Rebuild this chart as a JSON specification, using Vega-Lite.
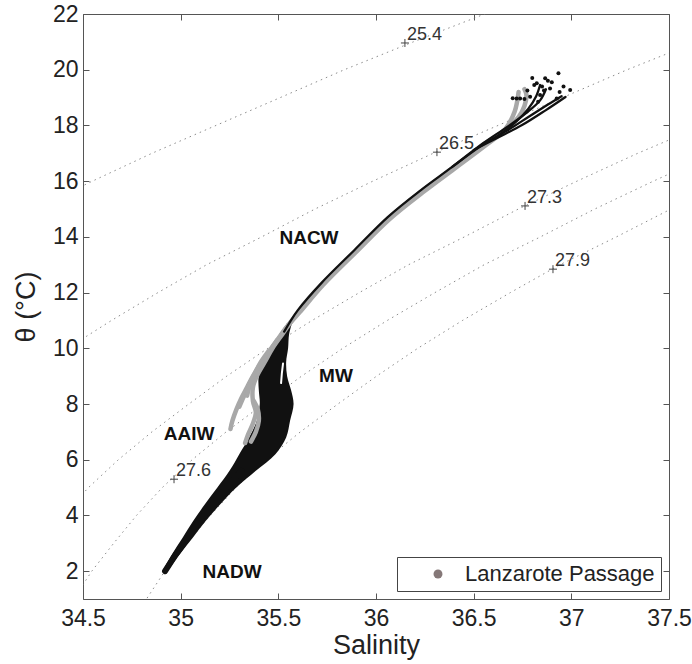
{
  "$schema": "https://vega.github.io/schema/vega-lite/v6.json",
  "width": 586,
  "height": 585,
  "autosize": "none",
  "padding": {"left": 83, "top": 14, "right": 23, "bottom": 65},
  "background": "white",
  "config": {
    "font": "Liberation Sans",
    "view": {"stroke": "#555", "strokeWidth": 1},
    "axis": {
      "domain": false, "grid": false, "ticks": true, "tickColor": "#555", "tickSize": -6,
      "labelFont": "Liberation Sans", "labelFontSize": 23, "labelColor": "#222",
      "titleFont": "Liberation Sans", "titleFontSize": 27, "titleFontWeight": "normal", "titleColor": "#222",
      "labelFlush": false, "labelOverlap": false, "labelBound": false
    },
    "legend": {
      "orient": "bottom-right", "offset": 8, "strokeColor": "#444", "fillColor": "white",
      "padding": 6, "symbolType": "circle", "symbolSize": 80, "labelFont": "Liberation Sans",
      "labelFontSize": 22, "labelColor": "#222", "symbolOffset": 24, "labelOffset": 16, "labelLimit": 400
    }
  },
  "datasets": {
    "iso": [
      {"sig": "25.4", "S": 34.255, "T": 15}, {"sig": "25.4", "S": 34.548, "T": 16}, {"sig": "25.4", "S": 34.853, "T": 17}, {"sig": "25.4", "S": 35.181, "T": 18}, {"sig": "25.4", "S": 35.510, "T": 19}, {"sig": "25.4", "S": 35.838, "T": 20}, {"sig": "25.4", "S": 36.191, "T": 21}, {"sig": "25.4", "S": 36.557, "T": 22}, {"sig": "25.4", "S": 36.742, "T": 22.5},
      {"sig": "26.5", "S": 34.421, "T": 10}, {"sig": "26.5", "S": 34.646, "T": 11}, {"sig": "26.5", "S": 34.884, "T": 12}, {"sig": "26.5", "S": 35.133, "T": 13}, {"sig": "26.5", "S": 35.415, "T": 14}, {"sig": "26.5", "S": 35.688, "T": 15}, {"sig": "26.5", "S": 35.984, "T": 16}, {"sig": "26.5", "S": 36.293, "T": 17}, {"sig": "26.5", "S": 36.625, "T": 18}, {"sig": "26.5", "S": 36.955, "T": 19}, {"sig": "26.5", "S": 37.286, "T": 20}, {"sig": "26.5", "S": 37.642, "T": 21},
      {"sig": "27.3", "S": 34.398, "T": 4}, {"sig": "27.3", "S": 34.528, "T": 5}, {"sig": "27.3", "S": 34.681, "T": 6}, {"sig": "27.3", "S": 34.853, "T": 7}, {"sig": "27.3", "S": 35.042, "T": 8}, {"sig": "27.3", "S": 35.236, "T": 9}, {"sig": "27.3", "S": 35.446, "T": 10}, {"sig": "27.3", "S": 35.673, "T": 11}, {"sig": "27.3", "S": 35.915, "T": 12}, {"sig": "27.3", "S": 36.167, "T": 13}, {"sig": "27.3", "S": 36.453, "T": 14}, {"sig": "27.3", "S": 36.729, "T": 15}, {"sig": "27.3", "S": 37.029, "T": 16}, {"sig": "27.3", "S": 37.340, "T": 17}, {"sig": "27.3", "S": 37.675, "T": 18},
      {"sig": "27.6", "S": 34.452, "T": 1}, {"sig": "27.6", "S": 34.545, "T": 2}, {"sig": "27.6", "S": 34.657, "T": 3}, {"sig": "27.6", "S": 34.774, "T": 4}, {"sig": "27.6", "S": 34.906, "T": 5}, {"sig": "27.6", "S": 35.059, "T": 6}, {"sig": "27.6", "S": 35.233, "T": 7}, {"sig": "27.6", "S": 35.424, "T": 8}, {"sig": "27.6", "S": 35.619, "T": 9}, {"sig": "27.6", "S": 35.830, "T": 10}, {"sig": "27.6", "S": 36.058, "T": 11}, {"sig": "27.6", "S": 36.302, "T": 12}, {"sig": "27.6", "S": 36.554, "T": 13}, {"sig": "27.6", "S": 36.842, "T": 14}, {"sig": "27.6", "S": 37.120, "T": 15}, {"sig": "27.6", "S": 37.420, "T": 16}, {"sig": "27.6", "S": 37.733, "T": 17},
      {"sig": "27.9", "S": 34.745, "T": 0}, {"sig": "27.9", "S": 34.825, "T": 1}, {"sig": "27.9", "S": 34.919, "T": 2}, {"sig": "27.9", "S": 35.033, "T": 3}, {"sig": "27.9", "S": 35.151, "T": 4}, {"sig": "27.9", "S": 35.283, "T": 5}, {"sig": "27.9", "S": 35.438, "T": 6}, {"sig": "27.9", "S": 35.613, "T": 7}, {"sig": "27.9", "S": 35.805, "T": 8}, {"sig": "27.9", "S": 36.003, "T": 9}, {"sig": "27.9", "S": 36.214, "T": 10}, {"sig": "27.9", "S": 36.443, "T": 11}, {"sig": "27.9", "S": 36.688, "T": 12}, {"sig": "27.9", "S": 36.942, "T": 13}, {"sig": "27.9", "S": 37.231, "T": 14}, {"sig": "27.9", "S": 37.510, "T": 15}, {"sig": "27.9", "S": 37.812, "T": 16}
    ],
    "isoLab": [
      {"sig": "25.4", "S": 36.148, "T": 20.96},
      {"sig": "26.5", "S": 36.312, "T": 17.04},
      {"sig": "27.3", "S": 36.763, "T": 15.11},
      {"sig": "27.9", "S": 36.906, "T": 12.84},
      {"sig": "27.6", "S": 34.966, "T": 5.30}
    ],
    "envelope": [
      {"T": 2.0, "lo": 34.907, "hi": 34.933}, {"T": 2.6, "lo": 34.955, "hi": 34.995}, {"T": 3.2, "lo": 35.01, "hi": 35.062},
      {"T": 3.8, "lo": 35.064, "hi": 35.128}, {"T": 4.4, "lo": 35.124, "hi": 35.203}, {"T": 5.0, "lo": 35.188, "hi": 35.285},
      {"T": 5.6, "lo": 35.25, "hi": 35.385}, {"T": 6.2, "lo": 35.30, "hi": 35.485}, {"T": 6.8, "lo": 35.35, "hi": 35.54},
      {"T": 7.4, "lo": 35.39, "hi": 35.56}, {"T": 8.0, "lo": 35.405, "hi": 35.578}, {"T": 8.5, "lo": 35.40, "hi": 35.565},
      {"T": 9.0, "lo": 35.40, "hi": 35.545}, {"T": 9.5, "lo": 35.43, "hi": 35.54}, {"T": 10.0, "lo": 35.465, "hi": 35.55},
      {"T": 10.5, "lo": 35.505, "hi": 35.555}, {"T": 10.9, "lo": 35.545, "hi": 35.57}
    ],
    "gap": [
      {"S": 35.514, "T": 8.75}, {"S": 35.518, "T": 9.1}, {"S": 35.524, "T": 9.45}
    ],
    "gray": [
      {"id": "g1", "S": 35.255, "T": 7.1}, {"id": "g1", "S": 35.265, "T": 7.4}, {"id": "g1", "S": 35.285, "T": 7.8}, {"id": "g1", "S": 35.31, "T": 8.2}, {"id": "g1", "S": 35.34, "T": 8.6}, {"id": "g1", "S": 35.37, "T": 9.0}, {"id": "g1", "S": 35.405, "T": 9.4}, {"id": "g1", "S": 35.445, "T": 9.8}, {"id": "g1", "S": 35.485, "T": 10.2}, {"id": "g1", "S": 35.525, "T": 10.6}, {"id": "g1", "S": 35.57, "T": 11.0}, {"id": "g1", "S": 35.612, "T": 11.37}, {"id": "g1", "S": 35.732, "T": 12.34}, {"id": "g1", "S": 35.902, "T": 13.53}, {"id": "g1", "S": 36.072, "T": 14.71}, {"id": "g1", "S": 36.242, "T": 15.68}, {"id": "g1", "S": 36.402, "T": 16.51}, {"id": "g1", "S": 36.562, "T": 17.37}, {"id": "g1", "S": 36.68, "T": 17.94}, {"id": "g1", "S": 36.73, "T": 18.3}, {"id": "g1", "S": 36.76, "T": 18.7}, {"id": "g1", "S": 36.77, "T": 19.1}, {"id": "g1", "S": 36.76, "T": 19.3},
      {"id": "g2", "S": 35.33, "T": 6.6}, {"id": "g2", "S": 35.345, "T": 6.9}, {"id": "g2", "S": 35.37, "T": 7.3}, {"id": "g2", "S": 35.385, "T": 7.7}, {"id": "g2", "S": 35.37, "T": 8.1}, {"id": "g2", "S": 35.37, "T": 8.6}, {"id": "g2", "S": 35.39, "T": 9.0}, {"id": "g2", "S": 35.43, "T": 9.5}, {"id": "g2", "S": 35.47, "T": 10.0}, {"id": "g2", "S": 35.52, "T": 10.5}, {"id": "g2", "S": 35.56, "T": 10.9}, {"id": "g2", "S": 35.61, "T": 11.3}, {"id": "g2", "S": 35.73, "T": 12.28}, {"id": "g2", "S": 35.90, "T": 13.47}, {"id": "g2", "S": 36.07, "T": 14.64}, {"id": "g2", "S": 36.24, "T": 15.6}, {"id": "g2", "S": 36.40, "T": 16.44}, {"id": "g2", "S": 36.56, "T": 17.28}, {"id": "g2", "S": 36.66, "T": 17.85}, {"id": "g2", "S": 36.71, "T": 18.5}, {"id": "g2", "S": 36.73, "T": 19.2},
      {"id": "g3", "S": 35.36, "T": 6.65}, {"id": "g3", "S": 35.385, "T": 7.0}, {"id": "g3", "S": 35.40, "T": 7.4}, {"id": "g3", "S": 35.395, "T": 7.8}, {"id": "g3", "S": 35.375, "T": 8.1},
      {"id": "g4", "S": 35.30, "T": 7.9}, {"id": "g4", "S": 35.325, "T": 8.3}, {"id": "g4", "S": 35.35, "T": 8.7}, {"id": "g4", "S": 35.385, "T": 9.1}, {"id": "g4", "S": 35.42, "T": 9.5}, {"id": "g4", "S": 35.455, "T": 9.9}, {"id": "g4", "S": 35.495, "T": 10.3},
      {"id": "g5", "S": 35.34, "T": 8.3}, {"id": "g5", "S": 35.355, "T": 8.7}, {"id": "g5", "S": 35.38, "T": 9.1}, {"id": "g5", "S": 35.41, "T": 9.5}, {"id": "g5", "S": 35.45, "T": 9.9}
    ],
    "black": [
      {"id": "m", "S": 35.53, "T": 10.6}, {"id": "m", "S": 35.56, "T": 10.95}, {"id": "m", "S": 35.60, "T": 11.37}, {"id": "m", "S": 35.72, "T": 12.34}, {"id": "m", "S": 35.89, "T": 13.53}, {"id": "m", "S": 36.06, "T": 14.71}, {"id": "m", "S": 36.23, "T": 15.68}, {"id": "m", "S": 36.39, "T": 16.51}, {"id": "m", "S": 36.55, "T": 17.37}, {"id": "m", "S": 36.67, "T": 17.94}, {"id": "m", "S": 36.77, "T": 18.45}, {"id": "m", "S": 36.84, "T": 18.9}, {"id": "m", "S": 36.87, "T": 19.3},
      {"id": "b2", "S": 36.39, "T": 16.51}, {"id": "b2", "S": 36.55, "T": 17.32}, {"id": "b2", "S": 36.68, "T": 17.85}, {"id": "b2", "S": 36.79, "T": 18.35}, {"id": "b2", "S": 36.88, "T": 18.75}, {"id": "b2", "S": 36.95, "T": 19.05},
      {"id": "b3", "S": 36.5, "T": 17.12}, {"id": "b3", "S": 36.62, "T": 17.55}, {"id": "b3", "S": 36.75, "T": 18.02}, {"id": "b3", "S": 36.87, "T": 18.55}, {"id": "b3", "S": 36.97, "T": 19.02},
      {"id": "b4", "S": 36.62, "T": 17.6}, {"id": "b4", "S": 36.72, "T": 18.15}, {"id": "b4", "S": 36.78, "T": 18.6}, {"id": "b4", "S": 36.82, "T": 19.05}, {"id": "b4", "S": 36.84, "T": 19.45},
      {"id": "c", "S": 34.92, "T": 2.0}, {"id": "c", "S": 34.975, "T": 2.6}, {"id": "c", "S": 35.036, "T": 3.2}, {"id": "c", "S": 35.096, "T": 3.8}, {"id": "c", "S": 35.163, "T": 4.4}, {"id": "c", "S": 35.236, "T": 5.0}, {"id": "c", "S": 35.31, "T": 5.6}
    ],
    "dots": [
      {"S": 36.934, "T": 19.87}, {"S": 36.994, "T": 19.27}, {"S": 36.866, "T": 19.69}, {"S": 36.823, "T": 19.51}, {"S": 36.891, "T": 19.33},
      {"S": 36.738, "T": 18.97}, {"S": 36.789, "T": 19.03}, {"S": 36.925, "T": 18.97}, {"S": 36.84, "T": 19.09}, {"S": 36.81, "T": 19.45},
      {"S": 36.9, "T": 19.55}, {"S": 36.76, "T": 18.95}, {"S": 36.86, "T": 19.25}, {"S": 36.94, "T": 19.2}, {"S": 36.8, "T": 19.7},
      {"S": 36.88, "T": 19.6}, {"S": 36.83, "T": 18.85}, {"S": 36.96, "T": 19.4}, {"S": 36.70, "T": 18.98}, {"S": 36.72, "T": 18.97},
      {"S": 36.775, "T": 19.25}, {"S": 36.85, "T": 19.4}
    ],
    "regions": [
      {"name": "NACW", "S": 35.657, "T": 13.96},
      {"name": "MW", "S": 35.795, "T": 9.0},
      {"name": "AAIW", "S": 35.043, "T": 6.92},
      {"name": "NADW", "S": 35.263, "T": 1.96}
    ]
  },
  "layer": [
    {
      "data": {"name": "iso"},
      "mark": {"type": "line", "clip": true, "color": "#777", "strokeWidth": 1, "strokeDash": [1.5, 4], "opacity": 0.85},
      "encoding": {
        "x": {"field": "S", "type": "quantitative", "scale": {"domain": [34.5, 37.5], "nice": false, "zero": false},
              "axis": {"orient": "bottom", "title": "Salinity", "values": [34.5, 35, 35.5, 36, 36.5, 37, 37.5], "format": "~g", "labelPadding": 14, "titlePadding": 2}},
        "y": {"field": "T", "type": "quantitative", "scale": {"domain": [1, 22], "nice": false, "zero": false},
              "axis": {"orient": "left", "title": "θ (°C)", "values": [2, 4, 6, 8, 10, 12, 14, 16, 18, 20, 22], "labelPadding": 11, "titlePadding": 12}},
        "detail": {"field": "sig"},
        "order": {"field": "T", "type": "quantitative"}
      }
    },
    {
      "data": {"name": "envelope"},
      "mark": {"type": "area", "orient": "horizontal", "color": "#111", "interpolate": "catmull-rom"},
      "encoding": {
        "y": {"field": "T", "type": "quantitative", "axis": {"orient": "right", "labels": false, "title": null, "values": [2, 4, 6, 8, 10, 12, 14, 16, 18, 20, 22]}},
        "x": {"field": "lo", "type": "quantitative", "axis": {"orient": "top", "labels": false, "title": null, "values": [34.5, 35, 35.5, 36, 36.5, 37, 37.5]}},
        "x2": {"field": "hi"}
      }
    },
    {
      "data": {"name": "gap"},
      "mark": {"type": "line", "color": "white", "strokeWidth": 2, "strokeCap": "round"},
      "encoding": {
        "x": {"field": "S", "type": "quantitative", "axis": null},
        "y": {"field": "T", "type": "quantitative", "axis": null},
        "order": {"field": "T", "type": "quantitative"}
      }
    },
    {
      "data": {"name": "black"},
      "transform": [{"filter": "datum.id === 'c'"}],
      "mark": {"type": "line", "color": "#111", "strokeWidth": 6, "strokeCap": "round"},
      "encoding": {
        "x": {"field": "S", "type": "quantitative", "axis": null},
        "y": {"field": "T", "type": "quantitative", "axis": null},
        "detail": {"field": "id"},
        "order": {"field": "T", "type": "quantitative"}
      }
    },
    {
      "data": {"name": "gray"},
      "mark": {"type": "line", "strokeWidth": 4.5, "strokeCap": "round", "strokeJoin": "round", "interpolate": "catmull-rom"},
      "encoding": {
        "x": {"field": "S", "type": "quantitative", "axis": null},
        "y": {"field": "T", "type": "quantitative", "axis": null},
        "detail": {"field": "id"},
        "order": {"field": "T", "type": "quantitative"},
        "color": {"datum": "Lanzarote Passage", "type": "nominal", "scale": {"range": ["#a8a8a8"]},
                  "legend": {"title": null, "symbolType": "circle",
                             "encode": {"symbols": {"update": {"fill": {"value": "#857878"}, "stroke": {"value": "#857878"}, "strokeWidth": {"value": 0}, "opacity": {"value": 1}}}}}}
      }
    },
    {
      "data": {"name": "black"},
      "transform": [{"filter": "datum.id !== 'c'"}],
      "mark": {"type": "line", "color": "#111", "strokeWidth": 2.3, "strokeCap": "round", "interpolate": "catmull-rom"},
      "encoding": {
        "x": {"field": "S", "type": "quantitative", "axis": null},
        "y": {"field": "T", "type": "quantitative", "axis": null},
        "detail": {"field": "id"},
        "order": {"field": "T", "type": "quantitative"}
      }
    },
    {
      "data": {"name": "dots"},
      "mark": {"type": "circle", "color": "#111", "size": 16, "opacity": 1},
      "encoding": {
        "x": {"field": "S", "type": "quantitative", "axis": null},
        "y": {"field": "T", "type": "quantitative", "axis": null}
      }
    },
    {
      "data": {"name": "isoLab"},
      "mark": {"type": "point", "shape": "M-1,0L1,0M0,-1L0,1", "size": 64, "stroke": "#444", "strokeWidth": 1, "filled": false, "opacity": 1},
      "encoding": {
        "x": {"field": "S", "type": "quantitative", "axis": null},
        "y": {"field": "T", "type": "quantitative", "axis": null}
      }
    },
    {
      "data": {"name": "isoLab"},
      "mark": {"type": "text", "align": "left", "baseline": "alphabetic", "dx": 2, "dy": -3, "fontSize": 18, "color": "#333", "font": "Liberation Sans"},
      "encoding": {
        "x": {"field": "S", "type": "quantitative", "axis": null},
        "y": {"field": "T", "type": "quantitative", "axis": null},
        "text": {"field": "sig"}
      }
    },
    {
      "data": {"name": "regions"},
      "mark": {"type": "text", "align": "center", "baseline": "middle", "fontSize": 19, "fontWeight": "bold", "color": "#111", "font": "Liberation Sans"},
      "encoding": {
        "x": {"field": "S", "type": "quantitative", "axis": null},
        "y": {"field": "T", "type": "quantitative", "axis": null},
        "text": {"field": "name"}
      }
    }
  ],
  "resolve": {"axis": {"x": "independent", "y": "independent"}}
}
